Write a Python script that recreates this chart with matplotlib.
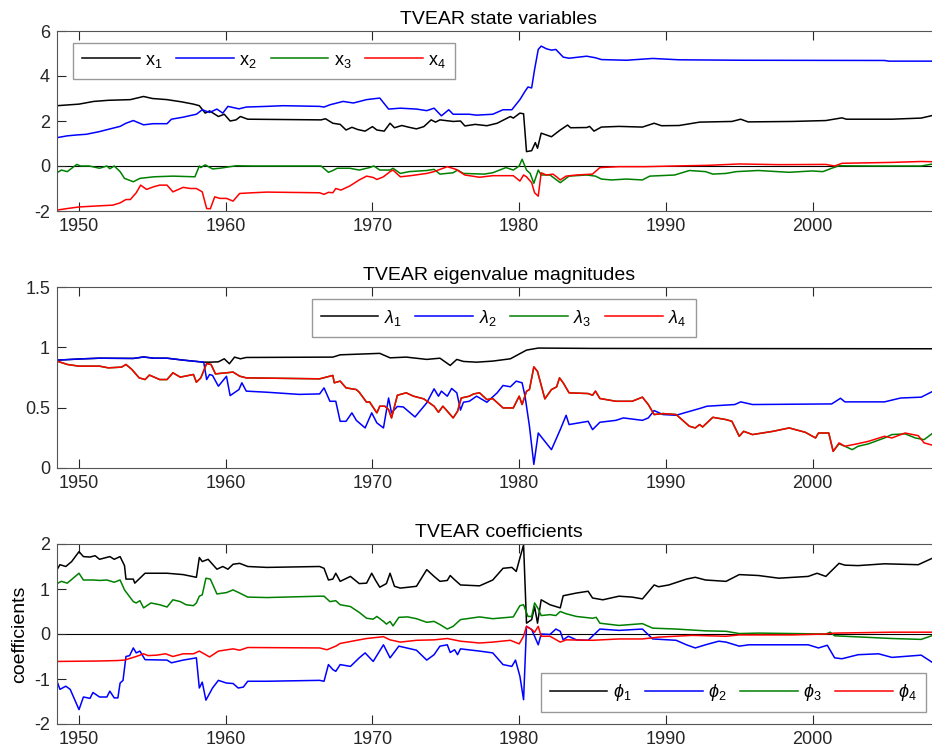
import numpy as np
import matplotlib
matplotlib.use("Agg")
import matplotlib.pyplot as plt
from matplotlib.ticker import FormatStrFormatter

plt.rcParams['font.family'] = ['Liberation Sans', 'DejaVu Sans']
plt.rcParams['mathtext.fontset'] = 'custom'
plt.rcParams['mathtext.rm'] = 'Liberation Sans'
plt.rcParams['mathtext.it'] = 'Liberation Sans:italic'
plt.rcParams['mathtext.bf'] = 'Liberation Sans:bold'

# ---- state variables (year, value)
x1 = [(1948.5, 2.68), (1950.0, 2.75), (1951.0, 2.87), (1952.0, 2.92), (1953.5, 2.95), (1954.4, 3.09),
      (1955.0, 3.0), (1956.0, 2.95), (1957.0, 2.85), (1957.8, 2.75), (1958.2, 2.68), (1958.6, 2.35),
      (1958.9, 2.45), (1959.5, 2.2), (1959.9, 2.3), (1960.3, 2.0), (1960.7, 2.05), (1961.0, 2.2),
      (1961.5, 2.08), (1966.5, 2.05), (1966.8, 2.1), (1967.3, 1.9), (1967.8, 1.85), (1968.2, 1.6),
      (1968.6, 1.72), (1969.0, 1.62), (1969.5, 1.55), (1970.0, 1.75), (1970.3, 1.6), (1970.8, 1.55),
      (1971.2, 1.9), (1971.5, 1.7), (1972.0, 1.8), (1972.5, 1.72), (1973.0, 1.65), (1973.5, 1.75),
      (1974.0, 2.05), (1974.3, 1.95), (1974.6, 2.05), (1975.5, 1.98), (1976.0, 2.0), (1976.3, 1.78),
      (1977.0, 1.85), (1977.8, 1.79), (1978.5, 1.9), (1979.4, 2.2), (1979.6, 2.13), (1980.05, 2.35),
      (1980.3, 2.32), (1980.5, 0.64), (1980.85, 0.68), (1981.1, 1.04), (1981.25, 0.79), (1981.5, 1.46),
      (1982.2, 1.3), (1982.8, 1.6), (1983.3, 1.82), (1983.5, 1.7), (1984.6, 1.71), (1984.8, 1.76),
      (1985.1, 1.55), (1985.6, 1.73), (1986.8, 1.76), (1988.4, 1.73), (1989.2, 1.9), (1989.7, 1.79),
      (1990.9, 1.8), (1992.3, 1.95), (1994.5, 1.98), (1995.1, 2.08), (1995.6, 1.96), (1998.6, 1.98),
      (2000.9, 2.02), (2002.0, 2.14), (2002.3, 2.08), (2005.4, 2.08), (2007.4, 2.13), (2008.2, 2.25)]
x2 = [(1948.5, 1.26), (1949.2, 1.34), (1949.85, 1.38), (1950.5, 1.41), (1951.4, 1.53), (1952.3, 1.68),
      (1952.8, 1.76), (1953.2, 1.9), (1953.7, 2.02), (1954.4, 1.83), (1955.05, 1.88), (1956.0, 1.88),
      (1956.3, 2.08), (1957.1, 2.17), (1957.5, 2.23), (1958.0, 2.3), (1958.4, 2.5), (1958.9, 2.38),
      (1959.4, 2.53), (1959.8, 2.35), (1960.15, 2.65), (1960.9, 2.54), (1961.4, 2.62), (1962.8, 2.65),
      (1963.9, 2.68), (1966.4, 2.65), (1966.7, 2.62), (1967.1, 2.72), (1968.0, 2.87), (1968.7, 2.8),
      (1969.6, 2.95), (1970.5, 3.02), (1971.1, 2.53), (1971.9, 2.57), (1973.0, 2.53), (1973.7, 2.46),
      (1974.2, 2.57), (1974.7, 2.23), (1975.2, 2.5), (1975.5, 2.3), (1976.6, 2.3), (1977.1, 2.26),
      (1978.2, 2.3), (1978.9, 2.5), (1979.5, 2.5), (1980.05, 2.95), (1980.4, 3.32), (1980.6, 3.51),
      (1980.85, 3.47), (1981.05, 4.29), (1981.3, 5.18), (1981.5, 5.33), (1981.85, 5.21), (1982.2, 5.15),
      (1982.5, 5.18), (1983.0, 4.84), (1983.4, 4.79), (1984.6, 4.88), (1985.2, 4.81), (1985.6, 4.73),
      (1987.3, 4.7), (1989.1, 4.78), (1990.9, 4.72), (1995.2, 4.7), (2004.9, 4.69), (2005.2, 4.66),
      (2008.2, 4.66)]
x3 = [(1948.5, -0.3), (1948.8, -0.18), (1949.2, -0.25), (1949.85, 0.07), (1950.1, 0.0), (1950.7, 0.0),
      (1951.4, -0.1), (1951.9, 0.0), (1952.1, -0.12), (1952.4, 0.0), (1952.8, -0.25), (1953.1, -0.55),
      (1953.7, -0.7), (1954.15, -0.55), (1955.1, -0.48), (1956.4, -0.45), (1957.9, -0.48), (1958.2, 0.0),
      (1958.3, -0.07), (1958.6, 0.05), (1959.1, -0.13), (1959.6, -0.1), (1960.7, 0.01), (1961.8, 0.0),
      (1966.5, 0.0), (1967.0, -0.28), (1967.3, -0.2), (1967.6, -0.1), (1968.45, -0.1), (1969.1, -0.18),
      (1969.8, -0.07), (1970.1, 0.0), (1970.5, -0.18), (1971.2, -0.18), (1971.4, -0.1), (1971.9, -0.33),
      (1972.5, -0.25), (1973.7, -0.2), (1974.2, -0.15), (1974.6, -0.36), (1975.5, -0.3), (1975.8, -0.18),
      (1976.2, -0.33), (1977.6, -0.36), (1978.2, -0.3), (1979.1, -0.07), (1979.6, -0.18), (1980.0, 0.0),
      (1980.2, 0.3), (1980.5, -0.18), (1980.75, -0.33), (1981.0, -0.77), (1981.3, -0.18), (1981.5, -0.4),
      (1982.1, -0.4), (1982.8, -0.74), (1983.4, -0.45), (1984.6, -0.4), (1985.2, -0.45), (1985.6, -0.58),
      (1986.3, -0.62), (1987.3, -0.58), (1988.4, -0.62), (1988.9, -0.45), (1990.6, -0.4), (1991.6, -0.2),
      (1992.7, -0.25), (1993.2, -0.36), (1994.1, -0.33), (1994.8, -0.25), (1996.3, -0.2), (1998.4, -0.28),
      (1999.95, -0.22), (2000.7, -0.25), (2001.3, -0.1), (2001.8, 0.01), (2004.0, 0.0), (2007.4, 0.0),
      (2008.2, 0.09)]
x4 = [(1948.5, -1.96), (1949.2, -1.89), (1950.0, -1.82), (1951.4, -1.77), (1952.3, -1.74), (1952.8, -1.64),
      (1953.2, -1.49), (1953.5, -1.49), (1953.9, -1.19), (1954.2, -0.85), (1954.6, -1.04), (1955.1, -0.92),
      (1955.5, -0.85), (1956.0, -0.85), (1956.4, -1.15), (1957.1, -0.95), (1957.6, -1.0), (1958.0, -1.0),
      (1958.4, -1.15), (1958.7, -1.89), (1958.95, -1.9), (1959.25, -1.37), (1959.6, -1.44), (1960.05, -1.44),
      (1960.5, -1.56), (1960.95, -1.22), (1961.8, -1.19), (1962.8, -1.16), (1966.4, -1.19), (1966.7, -1.26),
      (1967.0, -1.17), (1967.3, -1.19), (1967.5, -1.0), (1967.85, -1.07), (1968.45, -0.89), (1969.1, -0.62),
      (1969.6, -0.45), (1970.05, -0.51), (1970.3, -0.6), (1970.75, -0.48), (1971.2, -0.25), (1971.4, -0.18),
      (1971.9, -0.48), (1972.6, -0.43), (1973.7, -0.33), (1974.2, -0.25), (1975.1, -0.03), (1975.7, -0.15),
      (1976.3, -0.4), (1977.3, -0.5), (1978.2, -0.43), (1979.6, -0.43), (1980.05, -0.67), (1980.3, -0.4),
      (1980.5, -0.48), (1980.85, -0.74), (1981.05, -1.19), (1981.3, -1.34), (1981.5, -0.3), (1981.85, -0.4),
      (1982.3, -0.36), (1982.55, -0.48), (1982.8, -0.62), (1983.2, -0.45), (1983.9, -0.4), (1985.0, -0.36),
      (1985.5, -0.07), (1986.8, -0.03), (1988.6, -0.03), (1990.6, 0.0), (1992.9, 0.03), (1995.0, 0.09),
      (1997.7, 0.06), (2000.9, 0.07), (2001.5, 0.0), (2002.0, 0.12), (2005.4, 0.16), (2007.4, 0.2),
      (2008.2, 0.19)]

# ---- eigenvalue magnitudes
lam2 = [(1948.5, 0.894), (1950.3, 0.905), (1951.4, 0.91), (1953.7, 0.908), (1954.4, 0.92), (1955.1, 0.91),
        (1956.0, 0.91), (1957.1, 0.894), (1958.5, 0.877), (1958.7, 0.733), (1958.9, 0.775), (1959.1, 0.767),
        (1959.5, 0.678), (1960.05, 0.76), (1960.3, 0.6), (1960.9, 0.65), (1961.1, 0.706), (1961.4, 0.637),
        (1962.8, 0.628), (1965.0, 0.61), (1966.4, 0.614), (1966.7, 0.664), (1967.1, 0.553), (1967.5, 0.553),
        (1967.8, 0.387), (1968.2, 0.387), (1968.6, 0.457), (1968.9, 0.395), (1969.5, 0.332), (1969.95, 0.457),
        (1970.3, 0.374), (1970.75, 0.332), (1971.1, 0.58), (1971.3, 0.457), (1971.7, 0.51), (1972.1, 0.506),
        (1972.9, 0.423), (1973.7, 0.54), (1974.2, 0.656), (1974.5, 0.595), (1974.7, 0.637), (1975.1, 0.595),
        (1975.4, 0.659), (1975.75, 0.623), (1976.0, 0.48), (1976.2, 0.545), (1976.6, 0.553), (1977.1, 0.595),
        (1977.8, 0.545), (1978.5, 0.623), (1978.9, 0.684), (1979.4, 0.673), (1979.8, 0.72), (1980.2, 0.706),
        (1980.4, 0.595), (1980.7, 0.346), (1981.0, 0.03), (1981.3, 0.29), (1982.2, 0.152), (1982.8, 0.318),
        (1983.2, 0.437), (1983.4, 0.36), (1984.7, 0.387), (1985.0, 0.318), (1985.5, 0.379), (1986.6, 0.395),
        (1987.1, 0.415), (1988.4, 0.395), (1988.8, 0.415), (1989.2, 0.476), (1989.8, 0.443), (1990.7, 0.437),
        (1991.4, 0.462), (1992.3, 0.493), (1992.8, 0.512), (1994.7, 0.526), (1995.1, 0.548), (1995.9, 0.526),
        (2001.3, 0.531), (2001.9, 0.578), (2002.2, 0.548), (2004.9, 0.548), (2006.0, 0.58), (2007.4, 0.587),
        (2008.2, 0.636)]
# lambda1 equals lambda2 (complex pair) up to 1958.5
lam1_late = [(1958.9, 0.877), (1959.5, 0.88), (1959.9, 0.905), (1960.25, 0.864), (1960.6, 0.919),
             (1961.0, 0.905), (1961.4, 0.916), (1967.3, 0.919), (1967.8, 0.938), (1970.5, 0.95),
             (1971.2, 0.913), (1972.3, 0.919), (1973.7, 0.9), (1974.6, 0.91), (1975.3, 0.85),
             (1975.75, 0.9), (1976.2, 0.883), (1977.1, 0.877), (1978.2, 0.886), (1979.4, 0.905),
             (1980.5, 0.977), (1981.3, 0.994), (1985.0, 0.991), (2008.2, 0.988)]
lam4 = [(1948.5, 0.886), (1949.2, 0.858), (1950.0, 0.844), (1951.4, 0.844), (1952.0, 0.83), (1952.9, 0.836),
        (1953.2, 0.858), (1953.6, 0.817), (1954.1, 0.747), (1954.5, 0.733), (1954.8, 0.77), (1955.5, 0.733),
        (1956.0, 0.733), (1956.4, 0.789), (1956.9, 0.753), (1957.8, 0.775), (1958.0, 0.711), (1958.3, 0.747),
        (1958.7, 0.866), (1959.0, 0.858), (1959.3, 0.78), (1960.05, 0.789), (1960.5, 0.795), (1960.95, 0.761),
        (1961.4, 0.747), (1966.4, 0.739), (1967.3, 0.767), (1967.4, 0.706), (1967.8, 0.72), (1968.2, 0.664),
        (1968.9, 0.65), (1969.1, 0.628), (1969.6, 0.545), (1969.8, 0.548), (1970.3, 0.457), (1970.5, 0.512),
        (1970.85, 0.512), (1971.1, 0.484), (1971.3, 0.415), (1971.7, 0.603), (1972.3, 0.623), (1972.8, 0.595),
        (1973.5, 0.573), (1974.2, 0.512), (1974.5, 0.462), (1974.8, 0.512), (1975.2, 0.457), (1975.5, 0.415),
        (1975.8, 0.47), (1976.05, 0.58), (1976.6, 0.595), (1976.9, 0.614), (1977.3, 0.623), (1977.8, 0.567),
        (1978.2, 0.575), (1978.9, 0.498), (1979.6, 0.498), (1980.0, 0.595), (1980.2, 0.526), (1980.5, 0.636),
        (1980.7, 0.65), (1981.0, 0.838), (1981.25, 0.8), (1981.75, 0.573), (1982.2, 0.65), (1982.55, 0.672),
        (1982.75, 0.747), (1983.0, 0.706), (1983.4, 0.623), (1984.7, 0.617), (1985.0, 0.603), (1985.2, 0.637),
        (1985.5, 0.576), (1986.6, 0.553), (1987.7, 0.553), (1988.4, 0.587), (1988.8, 0.526), (1989.2, 0.443),
        (1989.8, 0.451), (1990.7, 0.443), (1991.6, 0.346), (1992.0, 0.332), (1992.3, 0.36), (1992.5, 0.34),
        (1993.2, 0.42), (1994.1, 0.401), (1994.5, 0.387), (1995.0, 0.263), (1995.3, 0.304), (1995.9, 0.277),
        (1997.3, 0.304), (1998.4, 0.332), (1999.5, 0.296), (2000.2, 0.249), (2000.4, 0.29), (2001.1, 0.29),
        (2001.4, 0.138), (2001.8, 0.208), (2002.2, 0.18), (2003.1, 0.202), (2003.8, 0.221), (2004.9, 0.263),
        (2005.4, 0.249), (2006.3, 0.29), (2007.2, 0.268), (2007.6, 0.208), (2008.2, 0.188)]
# lambda3 equals lambda4 (complex pair) up to 2001.1
lam3_late = [(2001.4, 0.138), (2001.8, 0.2), (2002.2, 0.18), (2002.7, 0.152), (2003.1, 0.18), (2003.8, 0.2),
             (2004.9, 0.249), (2005.4, 0.277), (2006.3, 0.283), (2007.0, 0.249), (2007.6, 0.235),
             (2008.2, 0.29)]
lam1 = [p for p in lam2 if p[0] <= 1958.5] + lam1_late
lam3 = [p for p in lam4 if p[0] <= 2001.1] + lam3_late

# ---- coefficients
phi1 = [(1948.5, 1.43), (1948.7, 1.54), (1949.1, 1.5), (1949.5, 1.61), (1950.0, 1.83), (1950.3, 1.72),
        (1950.75, 1.71), (1951.1, 1.74), (1951.4, 1.66), (1952.1, 1.72), (1952.4, 1.66), (1952.8, 1.72),
        (1953.1, 1.52), (1953.2, 1.22), (1953.7, 1.22), (1953.8, 1.13), (1954.15, 1.24), (1954.5, 1.35),
        (1956.0, 1.35), (1957.1, 1.32), (1958.0, 1.26), (1958.2, 1.7), (1958.4, 1.61), (1958.8, 1.66),
        (1959.4, 1.44), (1959.8, 1.5), (1960.15, 1.44), (1960.5, 1.55), (1960.95, 1.57), (1961.5, 1.5),
        (1962.8, 1.48), (1966.4, 1.5), (1966.7, 1.46), (1967.0, 1.2), (1967.3, 1.22), (1967.5, 1.35),
        (1967.8, 1.17), (1968.5, 1.28), (1969.1, 1.12), (1969.6, 1.13), (1969.95, 1.35), (1970.2, 1.2),
        (1970.5, 1.04), (1970.95, 1.12), (1971.2, 1.35), (1971.5, 1.06), (1971.9, 1.02), (1973.0, 1.06),
        (1973.7, 1.43), (1974.2, 1.28), (1974.6, 1.17), (1975.1, 1.19), (1975.3, 1.3), (1975.55, 1.22),
        (1976.0, 1.09), (1977.3, 1.07), (1978.2, 1.2), (1978.9, 1.46), (1979.5, 1.48), (1979.8, 1.39),
        (1980.05, 1.69), (1980.3, 1.98), (1980.5, 0.24), (1980.85, 0.32), (1981.05, 0.61), (1981.25, 0.24),
        (1981.5, 0.76), (1982.1, 0.65), (1982.8, 0.58), (1983.0, 0.85), (1983.9, 0.91), (1984.7, 0.95),
        (1985.0, 0.8), (1985.7, 0.76), (1986.8, 0.84), (1987.7, 0.82), (1988.4, 0.78), (1989.2, 1.09),
        (1989.5, 1.05), (1990.2, 1.09), (1991.4, 1.22), (1992.0, 1.26), (1992.7, 1.2), (1994.1, 1.17),
        (1995.0, 1.32), (1996.3, 1.3), (1997.7, 1.24), (1999.7, 1.28), (2000.3, 1.35), (2000.9, 1.28),
        (2001.8, 1.57), (2002.2, 1.53), (2003.1, 1.52), (2004.9, 1.56), (2007.2, 1.54), (2008.2, 1.69)]
phi2 = [(1948.5, -1.05), (1948.7, -1.23), (1949.1, -1.16), (1949.4, -1.23), (1950.0, -1.68), (1950.3, -1.4),
        (1950.75, -1.43), (1950.95, -1.3), (1951.4, -1.4), (1951.9, -1.4), (1952.1, -1.27), (1952.4, -1.42),
        (1952.65, -1.42), (1952.8, -1.09), (1953.0, -1.03), (1953.2, -0.5), (1953.45, -0.48), (1953.7, -0.31),
        (1953.9, -0.42), (1954.15, -0.38), (1954.5, -0.57), (1956.0, -0.58), (1956.3, -0.64), (1957.1, -0.58),
        (1958.0, -0.53), (1958.2, -1.2), (1958.4, -1.07), (1958.65, -1.47), (1959.1, -1.2), (1959.5, -1.03),
        (1960.05, -1.09), (1960.5, -1.1), (1960.85, -1.2), (1961.2, -1.18), (1961.5, -1.05), (1962.8, -1.05),
        (1966.4, -1.03), (1966.7, -1.05), (1967.0, -0.68), (1967.3, -0.79), (1967.5, -0.83), (1967.8, -0.68),
        (1968.5, -0.72), (1969.1, -0.53), (1969.5, -0.42), (1970.05, -0.61), (1970.75, -0.24), (1971.2, -0.53),
        (1971.8, -0.27), (1973.0, -0.36), (1973.7, -0.58), (1974.2, -0.46), (1974.6, -0.27), (1975.1, -0.24),
        (1975.3, -0.41), (1975.6, -0.35), (1975.8, -0.46), (1976.0, -0.33), (1977.3, -0.38), (1978.2, -0.42),
        (1978.9, -0.68), (1979.5, -0.72), (1979.75, -0.58), (1980.05, -0.94), (1980.3, -1.46), (1980.5, 0.17),
        (1980.85, 0.1), (1981.05, -0.05), (1981.3, -0.24), (1981.5, 0.0), (1982.1, -0.01), (1982.5, 0.11),
        (1982.8, 0.06), (1983.0, -0.13), (1983.35, -0.05), (1983.9, -0.13), (1984.7, -0.14), (1985.5, 0.11),
        (1986.8, 0.08), (1988.4, 0.11), (1989.1, -0.11), (1990.7, -0.14), (1991.4, -0.24), (1992.0, -0.31),
        (1992.7, -0.24), (1993.6, -0.16), (1994.1, -0.18), (1995.0, -0.27), (1995.65, -0.24), (1999.7, -0.24),
        (2000.4, -0.31), (2001.0, -0.25), (2001.5, -0.53), (2002.0, -0.55), (2003.1, -0.46), (2004.5, -0.44),
        (2005.4, -0.52), (2007.4, -0.47), (2008.2, -0.64)]
phi3 = [(1948.5, 1.12), (1948.8, 1.17), (1949.2, 1.13), (1950.0, 1.35), (1950.3, 1.2), (1951.0, 1.2),
        (1951.4, 1.19), (1951.9, 1.2), (1952.4, 1.15), (1952.8, 1.2), (1953.1, 0.98), (1953.7, 0.72),
        (1953.9, 0.69), (1954.15, 0.74), (1954.4, 0.58), (1954.9, 0.69), (1955.5, 0.65), (1956.0, 0.6),
        (1956.4, 0.76), (1956.9, 0.72), (1957.3, 0.65), (1957.8, 0.63), (1958.0, 0.69), (1958.2, 0.84),
        (1958.4, 0.87), (1958.65, 1.24), (1958.95, 1.22), (1959.4, 0.89), (1960.05, 0.92), (1960.5, 0.98),
        (1960.95, 0.91), (1961.5, 0.82), (1962.8, 0.81), (1966.4, 0.84), (1966.7, 0.84), (1967.1, 0.72),
        (1967.5, 0.74), (1967.8, 0.65), (1968.5, 0.61), (1969.1, 0.48), (1969.6, 0.35), (1970.05, 0.33),
        (1970.3, 0.39), (1970.75, 0.28), (1970.95, 0.22), (1971.2, 0.28), (1971.4, 0.18), (1971.8, 0.37),
        (1972.4, 0.38), (1973.0, 0.34), (1973.7, 0.26), (1974.2, 0.28), (1974.6, 0.21), (1975.1, 0.11),
        (1975.5, 0.17), (1976.0, 0.32), (1977.3, 0.38), (1978.2, 0.34), (1979.6, 0.38), (1980.05, 0.63),
        (1980.3, 0.65), (1980.6, 0.39), (1980.85, 0.39), (1981.05, 0.69), (1981.3, 0.56), (1981.5, 0.41),
        (1982.1, 0.43), (1982.5, 0.41), (1982.8, 0.5), (1983.2, 0.45), (1983.9, 0.39), (1985.0, 0.35),
        (1985.25, 0.37), (1985.5, 0.24), (1986.8, 0.19), (1988.4, 0.23), (1989.1, 0.13), (1990.7, 0.11),
        (1992.7, 0.07), (1994.1, 0.06), (1995.0, 0.01), (1996.3, 0.02), (2000.9, 0.0), (2001.2, 0.04),
        (2001.5, -0.04), (2005.4, -0.1), (2007.4, -0.12), (2008.2, -0.03)]
phi4 = [(1948.5, -0.61), (1951.4, -0.6), (1952.6, -0.59), (1953.1, -0.58), (1953.9, -0.5), (1954.4, -0.44),
        (1954.7, -0.48), (1955.3, -0.47), (1955.9, -0.44), (1956.4, -0.5), (1957.1, -0.44), (1957.8, -0.44),
        (1958.2, -0.38), (1958.9, -0.51), (1959.5, -0.38), (1960.5, -0.33), (1960.95, -0.36), (1961.5, -0.3),
        (1966.4, -0.31), (1966.9, -0.35), (1967.5, -0.27), (1967.8, -0.21), (1969.1, -0.13), (1969.6, -0.1),
        (1970.75, -0.06), (1971.2, -0.13), (1971.9, -0.18), (1973.0, -0.14), (1974.2, -0.13), (1975.1, -0.1),
        (1976.0, -0.16), (1977.3, -0.2), (1978.2, -0.18), (1979.4, -0.14), (1980.0, -0.22), (1980.3, -0.05),
        (1980.5, 0.17), (1980.85, 0.1), (1981.05, 0.04), (1981.3, 0.17), (1981.5, -0.05), (1982.1, -0.05),
        (1982.8, -0.18), (1983.2, -0.13), (1985.0, -0.14), (1986.8, -0.11), (1988.4, -0.11), (1989.5, -0.07),
        (1991.8, -0.03), (1994.1, -0.05), (1995.0, -0.02), (1998.6, -0.02), (2000.9, 0.0), (2001.5, 0.02),
        (2005.4, 0.04), (2008.2, 0.04)]

colors = ['k', 'b', (0, 0.5, 0), 'r']
xticks = [1950, 1960, 1970, 1980, 1990, 2000]

panels = [
    dict(title='TVEAR state variables', series=[x1, x2, x3, x4],
         labels=[r'$\mathrm{x}_%d$' % i for i in range(1, 5)],
         ylim=(-2, 6), yticks=[-2, 0, 2, 4, 6], zero=True,
         rect=[57, 31, 884, 180], leg=dict(loc='upper left', bbox_to_anchor=(0.018, 0.935))),
    dict(title='TVEAR eigenvalue magnitudes', series=[lam1, lam2, lam3, lam4],
         labels=[r'$\lambda_%d$' % i for i in range(1, 5)],
         ylim=(0, 1.5), yticks=[0, 0.5, 1, 1.5], zero=False,
         rect=[57, 287, 884, 181], leg=dict(loc='upper left', bbox_to_anchor=(0.288, 0.935))),
    dict(title='TVEAR coefficients', series=[phi1, phi2, phi3, phi4],
         labels=[r'$\phi_%d$' % i for i in range(1, 5)],
         ylim=(-2, 2), yticks=[-2, -1, 0, 1, 2], zero=True,
         rect=[57, 544, 884, 180], leg=dict(loc='lower right', bbox_to_anchor=(0.983, 0.067))),
]

W, H = 932, 753
fig = plt.figure(figsize=(W / 100, H / 100), dpi=100)
axc = '#555555'

for p in panels:
    l, t, w, h = p['rect']
    ax = fig.add_axes([l / W, 1 - (t + h) / H, w / W, h / H])
    if p['zero']:
        ax.axhline(0, color='k', lw=0.8, zorder=1)
    for s, c, lab in zip(p['series'], colors, p['labels']):
        a = np.array(s, dtype=float)
        ax.plot(a[:, 0], a[:, 1], color=c, lw=1.1, label=lab, zorder=2)
    ax.set_xlim(1948.5, 2008.75)
    ax.set_ylim(*p['ylim'])
    ax.set_xticks(xticks)
    ax.set_yticks(p['yticks'])
    ax.yaxis.set_major_formatter(FormatStrFormatter('%g'))
    ax.tick_params(direction='in', length=6.5, width=0.8, colors='#262626',
                   labelsize=13, pad=5, top=True)
    for sp in ax.spines.values():
        sp.set_color(axc)
        sp.set_linewidth(0.8)
    ax.set_title(p['title'], fontsize=14, pad=5)
    leg = ax.legend(ncol=4, fontsize=13, frameon=True, fancybox=False,
                    handlelength=3.2, handletextpad=0.3, columnspacing=0.75,
                    borderpad=0.5, borderaxespad=0, **p['leg'])
    leg.get_frame().set_edgecolor('#808080')
    leg.get_frame().set_linewidth(1.0)
    if p['title'] == 'TVEAR coefficients':
        ax.set_ylabel('coefficients', fontsize=14, labelpad=4)

fig.savefig('out.png', dpi=100)
